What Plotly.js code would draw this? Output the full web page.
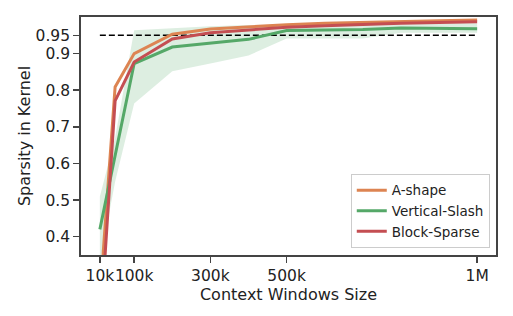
<!DOCTYPE html>
<html>
<head>
<meta charset="utf-8">
<script src="https://cdn.plot.ly/plotly-3.0.1.min.js"></script>
<style>html,body{margin:0;padding:0;background:#fff;}#chart{width:513px;height:316px;}</style>
</head>
<body>
<div id="chart"></div>
<script>
const contextSizes = [10000, 50000, 100000, 200000, 300000, 400000, 500000, 600000, 700000, 800000, 900000, 1000000];
const aShape        = [0.23, 0.809, 0.900, 0.953, 0.967, 0.974, 0.979, 0.983, 0.986, 0.988, 0.990, 0.992];
const verticalSlash = [0.42, 0.62, 0.873, 0.918, 0.928, 0.939, 0.963, 0.964, 0.966, 0.970, 0.969, 0.968];
const blockSparse   = [0.13, 0.771, 0.877, 0.940, 0.957, 0.965, 0.972, 0.976, 0.980, 0.983, 0.985, 0.987];
const vsLower       = [0.33, 0.55, 0.764, 0.852, 0.873, 0.895, 0.941, 0.941, 0.941, 0.957, 0.957, 0.957];
const vsUpper       = [0.51, 0.67, 0.964, 0.970, 0.975, 0.978, 0.980, 0.981, 0.981, 0.984, 0.984, 0.983];
const thresholdX = [10000, 1000000];
const thresholdY = [0.95, 0.95];
const xTickVals = [10000, 100000, 300000, 500000, 1000000];
const xTickText = ["10k", "100k", "300k", "500k", "1M"];
const yTickVals = [0.4, 0.5, 0.6, 0.7, 0.8, 0.9, 0.95];
const yTickText = ["0.4", "0.5", "0.6", "0.7", "0.8", "0.9", "0.95"];

const FONT = "DejaVu Sans, sans-serif";
const traces = [
  {x: contextSizes, y: vsLower, mode: "lines", line: {width: 0, color: "rgba(0,0,0,0)"}, showlegend: false, hoverinfo: "skip"},
  {x: contextSizes, y: vsUpper, mode: "lines", line: {width: 0, color: "rgba(0,0,0,0)"}, fill: "tonexty", fillcolor: "rgba(85,168,104,0.2)", showlegend: false, hoverinfo: "skip"},
  {x: thresholdX, y: thresholdY, mode: "lines", line: {color: "#000", width: 1.6, dash: "6px,3px"}, showlegend: false},
  {x: contextSizes, y: aShape, mode: "lines", name: "A-shape", line: {color: "#dd8452", width: 3}},
  {x: contextSizes, y: verticalSlash, mode: "lines", name: "Vertical-Slash", line: {color: "#55a868", width: 3}},
  {x: contextSizes, y: blockSparse, mode: "lines", name: "Block-Sparse", line: {color: "#c44e52", width: 3}}
];
const axisCommon = {
  showline: true, mirror: true, linecolor: "#444", linewidth: 1.8,
  ticks: "outside", ticklen: 6, tickwidth: 1.5, tickcolor: "#444",
  showgrid: false, zeroline: false,
  tickfont: {family: FONT, size: 15.5, color: "#222"}
};
const layout = {
  width: 513, height: 316,
  margin: {l: 81, r: 17, t: 17, b: 61},
  paper_bgcolor: "#fff", plot_bgcolor: "#fff",
  font: {family: FONT, color: "#222"},
  xaxis: Object.assign({}, axisCommon, {
    range: [-39500, 1049500], tickvals: xTickVals, ticktext: xTickText, tickangle: 0,
    title: {text: "Context Windows Size", font: {family: FONT, size: 16, color: "#222"}, standoff: 0}
  }),
  yaxis: Object.assign({}, axisCommon, {
    range: [0.35, 1.0], tickvals: yTickVals, ticktext: yTickText,
    title: {text: "Sparsity in Kernel", font: {family: FONT, size: 16, color: "#222"}, standoff: 1}
  }),
  legend: {
    x: 0.985, y: 0.03, xanchor: "right", yanchor: "bottom", traceorder: "normal",
    bgcolor: "rgba(255,255,255,0.8)", bordercolor: "#ccc", borderwidth: 1,
    font: {family: FONT, size: 13.5, color: "#222"}
  },
  showlegend: true
};
Plotly.newPlot("chart", traces, layout, {displayModeBar: false, staticPlot: true});
</script>
</body>
</html>
